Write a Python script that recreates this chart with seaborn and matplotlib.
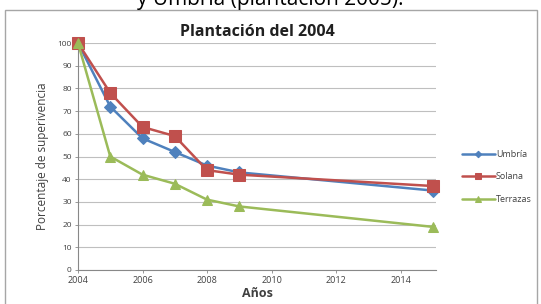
import matplotlib
matplotlib.use("Agg")
import matplotlib.pyplot as plt
import seaborn as sns
import pandas as pd
from matplotlib.patches import Rectangle

# ---- data ----
years = [2004, 2005, 2006, 2007, 2008, 2009, 2015]
umbria = [100, 72, 58, 52, 46, 43, 35]
solana = [100, 78, 63, 59, 44, 42, 37]
terrazas = [100, 50, 42, 38, 31, 28, 19]
series_names = ["Umbría", "Solana", "Terrazas"]
x_ticks = [2004, 2006, 2008, 2010, 2012, 2014]
y_ticks = list(range(0, 101, 10))

colors = ["#4F81BD", "#C0504D", "#9BBB59"]
markers = ["D", "s", "^"]
msizes = [6, 8, 7]

sns.set_theme(style="white")
plt.rcParams['font.family'] = ['Open Sans', 'DejaVu Sans']

fig = plt.figure(figsize=(5.41, 3.04), dpi=100)
W, H = 541, 304
ax = fig.add_axes([78 / W, 1 - 270 / H, (436 - 78) / W, (270 - 43) / H])

for name, vals, c, m, s in zip(series_names, [umbria, solana, terrazas], colors, markers, msizes):
    df = pd.DataFrame({"Año": years, "Pct": vals})
    sns.lineplot(data=df, x="Año", y="Pct", ax=ax, color=c, marker=m, markersize=s,
                 markeredgecolor=c, linewidth=1.8, label=name, clip_on=False, zorder=3)

ax.set_xlim(2004, 2015.1)
ax.set_ylim(0, 100)
ax.set_xticks(x_ticks)
ax.set_yticks(y_ticks)
ax.set_xticklabels([str(t) for t in x_ticks], fontsize=6.5, color="#404040")
ax.set_yticklabels([str(t) for t in y_ticks], fontsize=6, color="#404040")
ax.tick_params(axis="both", length=2.5, width=0.6, color="#888888", pad=2, direction="out")
ax.tick_params(axis="x", bottom=True)
ax.tick_params(axis="y", left=True)
ax.yaxis.grid(True, color="#BFBFBF", linewidth=0.8)
ax.xaxis.grid(False)
for side in ["top", "right"]:
    ax.spines[side].set_visible(False)
for side in ["left", "bottom"]:
    ax.spines[side].set_color("#888888")
    ax.spines[side].set_linewidth(0.8)

ax.set_xlabel("Años", fontsize=9, fontweight="bold", color="#404040", labelpad=1)
ax.set_ylabel("Porcentaje de superivencia", fontsize=8.5, color="#404040", labelpad=6)
ax.set_title("Plantación del 2004", fontsize=11.5, fontweight="bold", color="#202020", pad=5)

leg = ax.legend(loc="center left", bbox_to_anchor=(1.05, 0.41), frameon=False,
                fontsize=6.5, handlelength=3.6, handletextpad=0.15, labelspacing=1.5,
                markerscale=0.55)
for t in leg.get_texts():
    t.set_color("#404040")

# chart frame
fig.patches.append(Rectangle((5 / W, -0.05), (537 - 5) / W, 1.05 - 10 / H,
                             transform=fig.transFigure, fill=False,
                             edgecolor="#A6A6A6", linewidth=1.0))

# cut-off caption above chart
fig.text(0.5, 1 - 5 / H, "y Umbría (plantación 2005).", ha="center", va="baseline",
         fontsize=15, color="#000000")

fig.savefig("out.png", dpi=100)
